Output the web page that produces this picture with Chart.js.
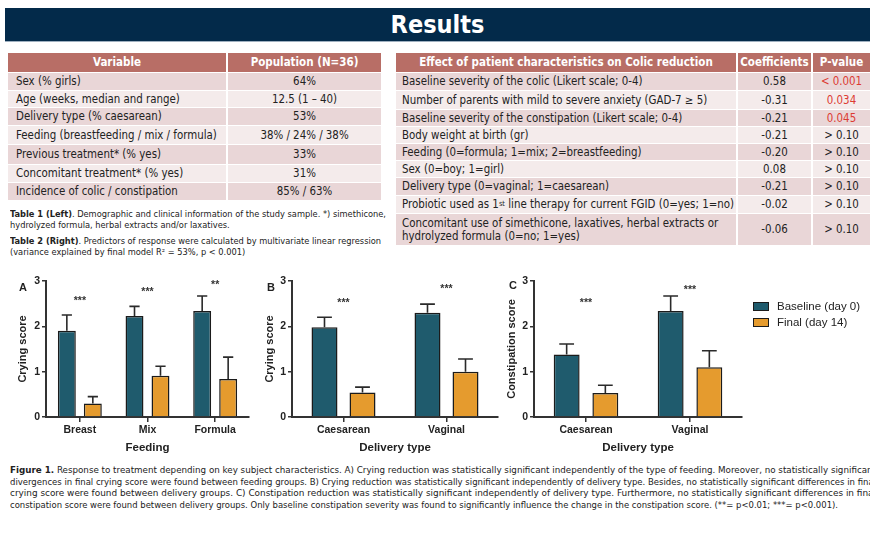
<!DOCTYPE html>
<html><head><meta charset="utf-8">
<script src="https://cdn.jsdelivr.net/npm/chart.js@4.4.1/dist/chart.umd.min.js"></script>
<style>
html,body{margin:0;padding:0;background:#fff;}
body{width:870px;height:538px;overflow:hidden;position:relative;font-family:"DejaVu Sans Condensed","DejaVu Sans",sans-serif;color:#222;}
#hdr{position:absolute;left:5px;top:8px;width:865px;height:33px;background:#032A4A;border-bottom:1px solid #9fb0c0;color:#fff;font-weight:bold;font-size:25px;text-align:center;line-height:33px;}
.cell{position:absolute;white-space:nowrap;font-size:11.4px;color:#222;display:flex;align-items:center;box-sizing:border-box;line-height:13px;}
.hcell{font-weight:bold;color:#fff;font-size:11.5px;}
.cap{position:absolute;white-space:nowrap;transform-origin:0 50%;color:#222;line-height:11px;}
canvas{position:absolute;}
.leg{position:absolute;font-family:"Liberation Sans",Arial,sans-serif;font-size:11.5px;color:#222;white-space:nowrap;line-height:14px;}
.sw{position:absolute;width:16px;height:9px;border:1.5px solid #1b1b1b;box-sizing:border-box;}
.plab{position:absolute;font:bold 11px "Liberation Sans",Arial,sans-serif;color:#222;line-height:12px;}
sup{font-size:0.65em;vertical-align:top;position:relative;top:-1px;}
</style></head><body>
<div id="hdr">Results</div>
<canvas id="cA" width="252" height="200" style="left:0px;top:265px;width:252px;height:200px"></canvas>
<canvas id="cB" width="250" height="200" style="left:250px;top:265px;width:250px;height:200px"></canvas>
<canvas id="cC" width="250" height="200" style="left:495px;top:265px;width:250px;height:200px"></canvas>
<script>
// ---------------- DATA ----------------
const seriesNames = ['Baseline (day 0)', 'Final (day 14)'];
const yTickValues = [0, 1, 2, 3];

const feedingCats = ['Breast', 'Mix', 'Formula'];
const feedingBaseline = [1.90, 2.23, 2.34];
const feedingBaselineErr = [0.35, 0.21, 0.33];
const feedingFinal = [0.30, 0.91, 0.84];
const feedingFinalErr = [0.15, 0.21, 0.48];
const feedingSig = ['***', '***', '**'];
const feedingSigY = [2.63, 2.83, 2.98];

const deliveryCats = ['Caesarean', 'Vaginal'];
const cryBaseline = [1.98, 2.30];
const cryBaselineErr = [0.22, 0.19];
const cryFinal = [0.54, 1.00];
const cryFinalErr = [0.12, 0.28];
const crySig = ['***', '***'];
const crySigY = [2.58, 2.88];

const constBaseline = [1.38, 2.34];
const constBaselineErr = [0.23, 0.33];
const constFinal = [0.53, 1.10];
const constFinalErr = [0.17, 0.36];
const constSig = ['***', '***'];
const constSigY = [2.57, 2.87];

const table1Header = ['Variable', 'Population (N=36)'];
const table1Vars = ['Sex (% girls)', 'Age (weeks, median and range)', 'Delivery type (% caesarean)',
  'Feeding (breastfeeding / mix / formula)', 'Previous treatment* (% yes)', 'Concomitant treatment* (% yes)',
  'Incidence of colic / constipation'];
const table1Values = ['64%', '12.5 (1 – 40)', '53%', '38% / 24% / 38%', '33%', '31%', '85% / 63%'];

const table2Header = ['Effect of patient characteristics on Colic reduction', 'Coefficients', 'P-value'];
const table2Vars = ['Baseline severity of the colic (Likert scale; 0-4)',
  'Number of parents with mild to severe anxiety (GAD-7 ≥ 5)',
  'Baseline severity of the constipation (Likert scale; 0-4)',
  'Body weight at birth (gr)',
  'Feeding (0=formula; 1=mix; 2=breastfeeding)',
  'Sex (0=boy; 1=girl)',
  'Delivery type (0=vaginal; 1=caesarean)',
  'Probiotic used as 1<sup>st</sup> line therapy for current FGID (0=yes; 1=no)',
  'Concomitant use of simethicone, laxatives, herbal extracts or<br>hydrolyzed formula (0=no; 1=yes)'];
const table2Coef = ['0.58', '-0.31', '-0.21', '-0.21', '-0.20', '0.08', '-0.21', '-0.02', '-0.06'];
const table2P = ['< 0.001', '0.034', '0.045', '> 0.10', '> 0.10', '> 0.10', '> 0.10', '> 0.10', '> 0.10'];

const tableCaptionLines = [
  '<b>Table 1 (Left)</b>. Demographic and clinical information of the study sample. *) simethicone,',
  'hydrolyzed formula, herbal extracts and/or laxatives.',
  '<b>Table 2 (Right)</b>. Predictors of response were calculated by multivariate linear regression',
  '(variance explained by final model R² = 53%, p < 0.001)'];
const figureCaptionLines = [
  '<b>Figure 1.</b> Response to treatment depending on key subject characteristics. A) Crying reduction was statistically significant independently of the type of feeding. Moreover, no statistically significant',
  'divergences in final crying score were found between feeding groups. B) Crying reduction was statistically significant independently of delivery type. Besides, no statistically significant differences in final',
  'crying score were found between delivery groups. C) Constipation reduction was statistically significant independently of delivery type. Furthermore, no statistically significant differences in final',
  'constipation score were found between delivery groups. Only baseline constipation severity was found to significantly influence the change in the constipation score. (**= p&lt;0.01; ***= p&lt;0.001).'];

// ---------------- STYLE ----------------
const BASE_COLOR = '#1F5B6D';
const FINAL_COLOR = '#E59B2E';
const EDGE = '#1b1b1b';
const HEAD_BG = '#B86E66';
const ROW_DARK = '#E9D6D7';
const ROW_LIGHT = '#F4EBEB';
const P_RED = '#DC3A32';

// ---------------- TABLES ----------------
function buildTable(cols, headerCells, bodyRows, bounds) {
  const all = [headerCells].concat(bodyRows);
  all.forEach((row, r) => {
    const top = bounds[r], h = bounds[r + 1] - bounds[r];
    row.forEach((txt, c) => {
      const col = cols[c];
      const d = document.createElement('div');
      d.className = 'cell' + (r === 0 ? ' hcell' : '');
      d.style.left = col.x + 'px'; d.style.top = top + 'px';
      d.style.width = col.w + 'px'; d.style.height = (h - 1) + 'px';
      d.style.background = r === 0 ? HEAD_BG : (r % 2 === 1 ? ROW_DARK : ROW_LIGHT);
      const al = r === 0 ? 'center' : col.align;
      d.style.justifyContent = al === 'left' ? 'flex-start' : 'center';
      if (al === 'left') d.style.paddingLeft = col.pad + 'px';
      const s = document.createElement('span');
      s.innerHTML = txt;
      if (r > 0 && col.red && !/^>/.test(txt)) s.style.color = P_RED;
      d.appendChild(s);
      document.body.appendChild(d);
    });
  });
}
buildTable(
  [{x: 8, w: 218, align: 'left', pad: 8}, {x: 228, w: 153, align: 'center'}],
  table1Header,
  table1Vars.map((v, i) => [v, table1Values[i]]),
  [53, 73, 91, 108, 126, 145, 165, 183, 201]);
buildTable(
  [{x: 396, w: 340, align: 'left', pad: 6}, {x: 738, w: 73, align: 'center'}, {x: 813, w: 57, align: 'center', red: true}],
  table2Header,
  table2Vars.map((v, i) => [v, table2Coef[i], table2P[i]]),
  [53, 73, 91, 110, 127, 144, 161, 178, 196, 214, 246]);

// ---------------- CAPTIONS ----------------
// lines with a target width are stretched to it; lines with null reuse the previous scale
function placeLines(lines, left, centers, targets, size) {
  let scale = 1;
  lines.forEach((html, i) => {
    const d = document.createElement('div');
    d.className = 'cap';
    d.style.left = left + 'px';
    d.style.top = (centers[i] - 5.5) + 'px';
    d.style.fontSize = size + 'px';
    d.innerHTML = html;
    document.body.appendChild(d);
    const w = d.getBoundingClientRect().width;
    if (targets[i] !== null) scale = targets[i] / w;
    d.style.transform = 'scaleX(' + scale + ')';
  });
}
placeLines(tableCaptionLines, 10, [214, 225, 241, 252], [376, null, null, null], 8.4);
placeLines(figureCaptionLines, 10, [470, 482, 493, 505], [866, 866, 866, 828], 8.6);

// ---------------- LEGEND & PANEL LETTERS ----------------
[[BASE_COLOR, 302], [FINAL_COLOR, 318]].forEach((p, i) => {
  const sw = document.createElement('div'); sw.className = 'sw';
  sw.style.left = '753px'; sw.style.top = p[1] + 'px'; sw.style.background = p[0];
  document.body.appendChild(sw);
  const t = document.createElement('div'); t.className = 'leg';
  t.style.left = '777px'; t.style.top = (p[1] - 3) + 'px'; t.textContent = seriesNames[i];
  document.body.appendChild(t);
});
[['A', 23, 287], ['B', 271, 287], ['C', 513, 285]].forEach(p => {
  const d = document.createElement('div'); d.className = 'plab';
  d.textContent = p[0];
  d.style.left = (p[1] - 4) + 'px'; d.style.top = (p[2] - 6) + 'px';
  document.body.appendChild(d);
});

// ---------------- CHARTS ----------------
Chart.defaults.font.family = '"Liberation Sans", Arial, sans-serif';
Chart.defaults.color = '#222';

const errPlugin = {
  id: 'errbars',
  afterDatasetsDraw(chart) {
    const ctx = chart.ctx, y = chart.scales.y;
    chart.data.datasets.forEach((ds, i) => {
      const meta = chart.getDatasetMeta(i);
      meta.data.forEach((bar, j) => {
        const v = ds.data[j], e = ds.errors[j];
        const yv = y.getPixelForValue(v), yt = y.getPixelForValue(v + e);
        const cap = bar.width * 0.57;
        ctx.save();
        ctx.strokeStyle = '#2a2a2a'; ctx.lineWidth = 1.6;
        ctx.beginPath();
        ctx.moveTo(bar.x, yv); ctx.lineTo(bar.x, yt);
        ctx.moveTo(bar.x - cap / 2, yt); ctx.lineTo(bar.x + cap / 2, yt);
        ctx.stroke();
        ctx.restore();
      });
    });
  }
};
const sigPlugin = {
  id: 'sig',
  afterDatasetsDraw(chart, args, opts) {
    const ctx = chart.ctx, x = chart.scales.x, y = chart.scales.y;
    ctx.save();
    ctx.font = 'bold 10.5px "Liberation Sans", Arial, sans-serif';
    ctx.fillStyle = '#333'; ctx.textAlign = 'center'; ctx.textBaseline = 'alphabetic';
    opts.marks.forEach((m, j) => {
      ctx.fillText(m, x.getPixelForValue(j), y.getPixelForValue(opts.ys[j]) + 6);
    });
    ctx.restore();
  }
};

function makeChart(id, cats, base, baseErr, fin, finErr, marks, markYs, yTitle, xTitle, L) {
  const ds = (label, data, errors, color) => ({
    label, data, errors, backgroundColor: color, borderColor: EDGE, borderWidth: 1.5,
    categoryPercentage: L.cat, barPercentage: L.bar
  });
  return new Chart(document.getElementById(id), {
    type: 'bar',
    data: {labels: cats, datasets: [
      ds(seriesNames[0], base, baseErr, BASE_COLOR),
      ds(seriesNames[1], fin, finErr, FINAL_COLOR)]},
    options: {
      responsive: false, animation: false, devicePixelRatio: 1,
      layout: {padding: {top: 16, right: L.right, left: 0, bottom: 0}},
      plugins: {legend: {display: false}, tooltip: {enabled: false}, sig: {marks, ys: markYs}},
      scales: {
        x: {
          offset: true,
          grid: {display: true, drawOnChartArea: false, drawTicks: true, tickLength: 5, offset: false, color: '#333', lineWidth: 1.5},
          border: {display: true, color: '#333', width: 2},
          ticks: {font: {weight: 'bold', size: 10.5}, color: '#222', padding: 2, maxRotation: 0},
          title: {display: true, text: xTitle, font: {weight: 'bold', size: 11.5}, color: '#222', padding: {top: 0, bottom: 10}},
          afterFit: s => { s.height = 48; }
        },
        y: {
          min: 0, max: 3,
          afterBuildTicks: s => { s.ticks = yTickValues.map(v => ({value: v})); },
          grid: {display: true, drawOnChartArea: false, drawTicks: true, tickLength: 4, color: '#333', lineWidth: 1.5},
          border: {display: true, color: '#333', width: 2},
          ticks: {font: {weight: 'bold', size: 10.5}, color: '#222', padding: 2},
          title: {display: true, text: yTitle, font: {weight: 'bold', size: 11}, color: '#222', padding: {top: L.ytp, bottom: 0}},
          afterFit: s => { s.width = L.yw; }
        }
      }
    },
    plugins: [errPlugin, sigPlugin]
  });
}

makeChart('cA', feedingCats, feedingBaseline, feedingBaselineErr, feedingFinal, feedingFinalErr,
  feedingSig, feedingSigY, 'Crying score', 'Feeding', {cat: 0.768, bar: 0.69, right: 3, yw: 46, ytp: 16});
makeChart('cB', deliveryCats, cryBaseline, cryBaselineErr, cryFinal, cryFinalErr,
  crySig, crySigY, 'Crying score', 'Delivery type', {cat: 0.738, bar: 0.684, right: 2, yw: 42, ytp: 13});
makeChart('cC', deliveryCats, constBaseline, constBaselineErr, constFinal, constFinalErr,
  constSig, constSigY, 'Constipation score', 'Delivery type', {cat: 0.744, bar: 0.67, right: 3, yw: 39, ytp: 10});
</script>
</body></html>
